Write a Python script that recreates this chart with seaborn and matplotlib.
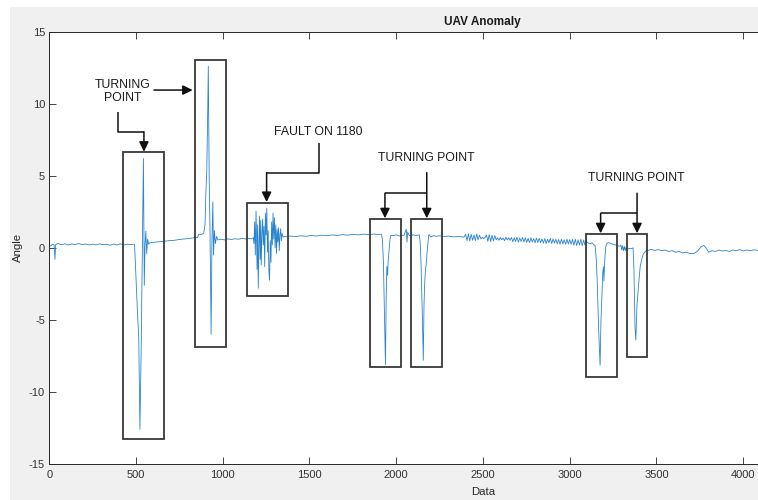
import numpy as np
import pandas as pd
import matplotlib
matplotlib.use("Agg")
import matplotlib.pyplot as plt
from matplotlib.patches import Rectangle
import seaborn as sns

# ---------------- data: angle trace by sample index ----------------
start_idx = [0, 10, 18, 28, 33, 37, 50, 70, 90, 110, 130, 150, 170, 190, 210, 230,
             250, 270, 290, 310, 330, 350, 370, 390, 410, 430, 450, 470, 488]
start_ang = [0.1, 0.15, 0.25, 0.2, -0.8, 0.22, 0.3, 0.22, 0.28, 0.2, 0.27, 0.22, 0.3, 0.22,
             0.27, 0.2, 0.26, 0.2, 0.28, 0.22, 0.25, 0.18, 0.26, 0.2, 0.28, 0.2, 0.25, 0.22, 0.26]

turn1_idx = [492, 500, 510, 516, 523, 530, 536, 543, 548, 552, 557, 562, 567, 573, 580]
turn1_ang = [0.2, -2.0, -4.8, -6.2, -12.6, -7.1, -1.0, 6.2, -2.6, 0.1, 1.16, -0.4, 0.6, 0.25, 0.35]

drift_idx = [600, 630, 660, 690, 720, 750, 780, 810, 840, 855, 862, 875, 890]
drift_ang = [0.38, 0.42, 0.45, 0.5, 0.52, 0.58, 0.62, 0.66, 0.7, 0.72, 0.95, 0.92, 1.0]

turn2_idx = [898, 903, 908, 913, 917, 922, 927, 933, 938, 943, 947, 952, 958, 965, 972]
turn2_ang = [1.6, 3.8, 5.3, 9.0, 12.6, 5.0, 1.0, -6.0, 0.5, 3.2, -0.5, 1.2, 0.3, 0.8, 0.55]

level_idx = [990, 1010, 1030, 1050, 1070, 1090, 1110, 1130, 1150, 1165, 1176]
level_ang = [0.6, 0.55, 0.62, 0.58, 0.63, 0.6, 0.65, 0.62, 0.66, 0.62, 0.7]

fault_idx = [1180, 1184, 1188, 1192, 1195, 1198, 1201, 1205, 1209, 1212,
             1216, 1219, 1222, 1226, 1230, 1234, 1238, 1242, 1246, 1250,
             1254, 1258, 1262, 1266, 1270, 1274, 1278, 1282, 1286, 1290,
             1294, 1298, 1302, 1306, 1310, 1314, 1318, 1322, 1326, 1330,
             1334, 1338, 1342, 1348]
fault_ang = [0.3, 1.8, -0.5, 2.55, 0.8, -1.5, 1.6, -2.8, 0.5, 2.2,
             -0.8, 1.9, -1.2, 0.9, 2.0, 0.2, 1.5, -1.3, 2.4, 0.9,
             2.75, -0.3, 1.2, -1.6, -2.25, 0.5, -1.0, 1.8, 0.2, 2.4,
             0.6, 2.1, 0.0, 1.6, -0.4, 1.3, 0.4, 1.4, -0.2, 0.9,
             1.33, 0.5, 1.0, 0.75]

cruise_idx = [1360, 1390, 1420, 1450, 1480, 1510, 1540, 1570, 1600, 1630,
              1660, 1690, 1720, 1750, 1780, 1810, 1840, 1870, 1895, 1915]
cruise_ang = [0.78, 0.82, 0.78, 0.84, 0.8, 0.86, 0.82, 0.88, 0.84, 0.9,
              0.86, 0.92, 0.88, 0.94, 0.9, 0.95, 0.92, 0.96, 0.93, 0.95]

turn3_idx = [1920, 1926, 1932, 1938, 1942, 1946, 1950, 1954, 1959, 1964, 1969,
             1985, 2000, 2020, 2045, 2058, 2062, 2066, 2075, 2095, 2115, 2133]
turn3_ang = [0.6, -0.87, -4.5, -8.1, -3.5, -1.3, -1.9, -0.8, -0.17, 0.6, 0.87,
             0.85, 0.9, 0.82, 0.88, 1.3, 0.4, 1.1, 0.85, 0.9, 0.86, 0.9]

turn4_idx = [2138, 2143, 2150, 2156, 2160, 2164, 2168, 2173, 2180, 2188,
             2200, 2215, 2230, 2250, 2270, 2300, 2330, 2360, 2390]
turn4_ang = [0.4, -1.1, -4.5, -7.8, -4.0, -2.5, -1.6, -1.1, 0.0, 0.93,
             0.75, 0.85, 0.8, 0.84, 0.78, 0.82, 0.76, 0.8, 0.74]

# vibration band, one reading every 8 samples
vib_idx = list(range(2400, 3100, 8))
vib_ang = [0.95, 0.5, 0.98, 0.48, 0.94, 0.52, 0.9, 0.5, 0.96, 0.55, 0.88,
           0.62, 0.74, 0.64, 0.72, 0.9, 0.45, 0.92, 0.44, 0.88, 0.48, 0.86,
           0.55, 0.7, 0.52, 0.72, 0.56, 0.68, 0.5, 0.74, 0.54, 0.7, 0.52,
           0.72, 0.42, 0.7, 0.44, 0.74, 0.4, 0.68, 0.45, 0.72, 0.41, 0.7,
           0.38, 0.66, 0.36, 0.7, 0.4, 0.64, 0.35, 0.68, 0.38, 0.66, 0.36,
           0.62, 0.32, 0.64, 0.3, 0.6, 0.35, 0.66, 0.3, 0.62, 0.33, 0.6,
           0.28, 0.58, 0.25, 0.6, 0.27, 0.56, 0.24, 0.6, 0.26, 0.57, 0.25,
           0.58, 0.18, 0.6, 0.16, 0.56, 0.2, 0.6, 0.15, 0.55, 0.18, 0.5]

turn5_idx = [3100, 3115, 3130, 3140, 3146, 3153, 3159, 3166, 3175, 3180,
             3186, 3190, 3194, 3197, 3202, 3208, 3213, 3222, 3232, 3250,
             3270, 3290, 3295, 3300, 3305, 3310, 3315, 3320, 3325, 3330,
             3340, 3355, 3365]
turn5_ang = [0.38, 0.28, 0.35, 0.2, 0.17, -0.8, -2.5, -5.5, -8.15, -5.0,
             -3.2, -1.8, -1.3, -2.3, -0.8, 0.1, 0.29, 0.36, 0.33, 0.25,
             0.18, 0.1, 0.2, -0.15, 0.15, -0.2, 0.1, -0.2, 0.05, -0.15,
             -0.05, -0.05, 0.0]

turn6_idx = [3370, 3376, 3381, 3387, 3395, 3406, 3415, 3425, 3440, 3454,
             3470, 3490, 3510, 3530, 3550, 3570, 3590, 3610, 3630, 3650,
             3670, 3690, 3715, 3735, 3755, 3773, 3785, 3801, 3820, 3840,
             3860, 3880, 3900, 3920, 3940, 3960, 3980, 4000, 4020, 4040,
             4060, 4085]
turn6_ang = [-1.5, -5.5, -6.4, -4.1, -2.8, -1.3, -0.8, -0.4, -0.2, -0.17,
             -0.1, -0.18, -0.12, -0.2, -0.15, -0.25, -0.2, -0.3, -0.25, -0.35,
             -0.3, -0.38, -0.4, -0.25, 0.05, 0.17, 0.0, -0.3, -0.2, -0.25,
             -0.15, -0.22, -0.18, -0.25, -0.15, -0.2, -0.12, -0.22, -0.15, -0.2,
             -0.14, -0.17]

# highlighted regions: (x0, x1, y0, y1)
box_x0 = [425, 840, 1138, 1849, 2085, 3092, 3328]
box_x1 = [661, 1021, 1375, 2026, 2264, 3273, 3447]
box_y0 = [-13.27, -6.90, -3.32, -8.25, -8.25, -8.98, -7.57]
box_y1 = [6.65, 13.04, 3.09, 2.0, 2.0, 0.94, 0.94]

# callout labels
label_text = ["TURNING\nPOINT", "FAULT ON 1180", "TURNING POINT", "TURNING POINT"]
label_x = [425, 1549, 2172, 3385]
label_y = [10.88, 8.03, 6.26, 4.83]

# callout leader paths (last segment carries the arrow head)
leaders = [
    [(395, 9.43), (395, 8.06), (546, 8.06), (546, 6.67)],
    [(604, 10.95), (827, 10.95)],
    [(1553, 7.30), (1553, 5.22), (1253, 5.22), (1253, 3.18)],
    [(2176, 5.22), (2176, 2.05)],
    [(2176, 3.79), (1935, 3.79), (1935, 2.05)],
    [(3388, 3.79), (3388, 1.01)],
    [(3388, 2.40), (3178, 2.40), (3178, 1.01)],
]

x_ticks = [0, 500, 1000, 1500, 2000, 2500, 3000, 3500, 4000]
y_ticks = [-15, -10, -5, 0, 5, 10, 15]

# ---------------- assemble ----------------
segments = [(start_idx, start_ang), (turn1_idx, turn1_ang), (drift_idx, drift_ang),
            (turn2_idx, turn2_ang), (level_idx, level_ang), (fault_idx, fault_ang),
            (cruise_idx, cruise_ang), (turn3_idx, turn3_ang), (turn4_idx, turn4_ang),
            (vib_idx, vib_ang), (turn5_idx, turn5_ang), (turn6_idx, turn6_ang)]
df = pd.DataFrame({
    "Data": [v for s in segments for v in s[0]],
    "Angle": [v for s in segments for v in s[1]],
})

# ---------------- style ----------------
sns.set_style("ticks")
plt.rcParams["font.family"] = ["Liberation Sans", "DejaVu Sans"]
plt.rcParams["axes.unicode_minus"] = False
ink = "#262626"

W, H = 758, 500
fig = plt.figure(figsize=(W / 100, H / 100), dpi=100)
fig.patch.set_facecolor("white")
fig.patches.append(Rectangle((10 / W, 0), 1 - 10 / W, 1 - 7 / H,
                             transform=fig.transFigure, facecolor="#f0f0f0",
                             edgecolor="none", zorder=-10))

ax_left, ax_bottom = 49.2, 36.0
ax_w, ax_h = W - ax_left, 432.3
ax = fig.add_axes([ax_left / W, ax_bottom / H, ax_w / W, ax_h / H])
ax.set_facecolor("white")

sns.lineplot(data=df, x="Data", y="Angle", sort=False, estimator=None,
             color="#2a84cc", linewidth=0.6, ax=ax)

ax.set_xlim(0, 4085)
ax.set_ylim(-15, 15)
ax.set_xticks(x_ticks)
ax.set_yticks(y_ticks)
ax.tick_params(axis="both", direction="in", length=4.8, width=0.6,
               colors=ink, labelsize=8, top=True, right=False)
ax.tick_params(axis="x", pad=4.2)
ax.tick_params(axis="y", pad=3)
for lbl in ax.get_xticklabels() + ax.get_yticklabels():
    lbl.set_color("#333333")
for side in ["left", "bottom", "top"]:
    ax.spines[side].set_color(ink)
    ax.spines[side].set_linewidth(0.7)
ax.spines["right"].set_visible(False)

ax.set_title("UAV Anomaly", fontsize=8.5, fontweight="bold", color="#1a1a1a",
             x=(482 - ax_left) / ax_w, pad=5)
ax.set_xlabel("Data", fontsize=8.2, color=ink, va="center")
ax.xaxis.set_label_coords((483 - ax_left) / ax_w, -(492 - 464) / ax_h)
ax.set_ylabel("Angle", fontsize=8.2, color=ink, va="center")
ax.yaxis.set_label_coords((18 - ax_left) / ax_w, (464 - 247) / ax_h)

# highlight boxes
for x0, x1, y0, y1 in zip(box_x0, box_x1, box_y0, box_y1):
    ax.add_patch(Rectangle((x0, y0), x1 - x0, y1 - y0, fill=False,
                           edgecolor="#383838", linewidth=1.3, zorder=3))

# callout text
for t, x, y in zip(label_text, label_x, label_y):
    ax.text(x, y, t, ha="center", va="center", fontsize=8.8, color="#1a1a1a",
            linespacing=1.1, zorder=4)

# leader lines with arrow heads
for path in leaders:
    xs = [p[0] for p in path[:-1]]
    ys = [p[1] for p in path[:-1]]
    if len(path) > 2:
        ax.plot(xs, ys, color="#111111", linewidth=1.1, zorder=4,
                solid_capstyle="butt")
    ax.annotate("", xy=path[-1], xytext=path[-2],
                arrowprops=dict(arrowstyle="-|>,head_length=0.45,head_width=0.22",
                                color="#111111", lw=1.1, mutation_scale=13,
                                shrinkA=0, shrinkB=0), zorder=4)

fig.savefig("out.png", dpi=100)
